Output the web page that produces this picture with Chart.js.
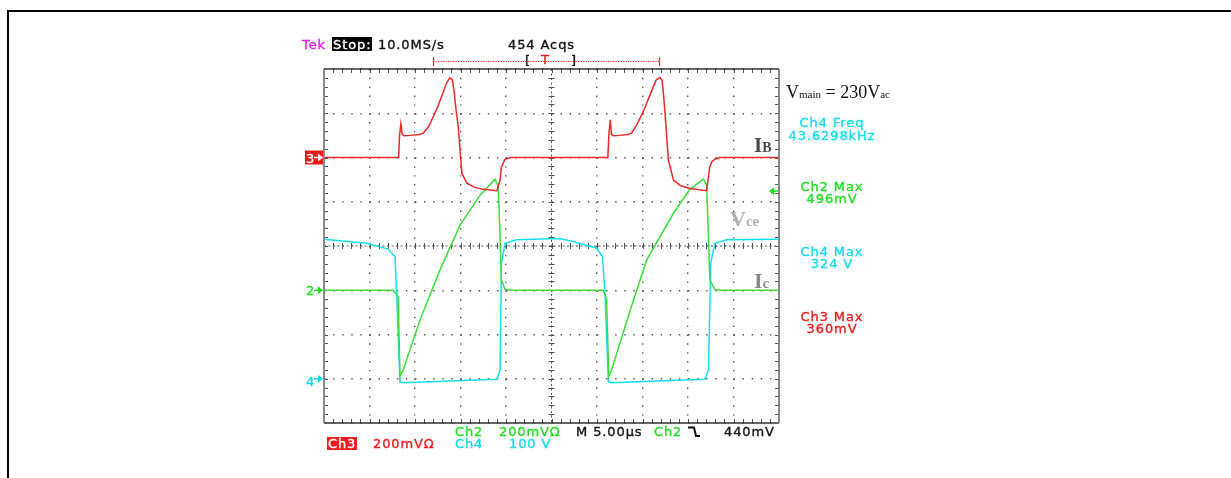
<!DOCTYPE html>
<html lang="en">
<head>
<meta charset="UTF-8">
<title>Scope capture - IB, Vce, Ic</title>
<script src="https://cdn.jsdelivr.net/npm/chart.js"></script>
<style>
    body { margin: 0; background: #fff; }
    #wrap { position: relative; width: 1231px; height: 478px; overflow: hidden; }
    #scope { position: absolute; left: 0; top: 0; }
    .frame { position: absolute; left: 7px; top: 10px; width: 1230px; height: 470px;
             border-top: 2px solid #000; border-left: 2px solid #000; }
    .t { position: absolute; font-family: "DejaVu Sans", sans-serif; font-size: 13px;
         line-height: 13px; letter-spacing: 0.9px; white-space: pre; -webkit-text-stroke: 0.35px currentColor; }
    .c { width: 100px; left: 782px; text-align: center; }
    .box { color: #fff; padding: 0 1px; }
    .serif { position: absolute; font-family: "Liberation Serif", serif; font-weight: bold; white-space: pre; }
    .sub { line-height: 10px; }
    .red { color: #ee1c1c; } .grn { color: #22dd22; } .cyn { color: #12dcec; } .blk { color: #111; }
</style>
</head>
<body>
<div id="wrap">
    <canvas id="scope" width="1231" height="478"></canvas>
    <div class="frame"></div>

    <!-- header -->
    <div class="t" style="left:302px;top:38px;color:#e81ee8">Tek</div>
    <div class="t box" style="left:332px;top:37px;background:#000;height:13px;padding-top:1px">Stop:</div>
    <div class="t blk" style="left:378px;top:38px">10.0MS/s</div>
    <div class="t blk" style="left:508px;top:38px">454 Acqs</div>
    <div class="t blk" style="left:525px;top:54px">[</div>
    <div class="t red" style="left:541px;top:53px">T</div>
    <div class="t blk" style="left:571px;top:54px">]</div>

    <!-- channel markers -->
    <div class="t" style="left:306px;top:152px;color:#fff">3</div>
    <div class="t grn" style="left:306px;top:284px">2</div>
    <div class="t cyn" style="left:306px;top:375px">4</div>

    <!-- trace labels -->
    <div class="serif" style="left:754px;top:135px;font-size:21px;line-height:21px;color:#4a4a4a">I<span class="sub" style="font-size:14px">B</span></div>
    <div class="serif" style="left:730px;top:208px;font-size:22px;line-height:22px;color:#b0b0b0">V<span class="sub" style="font-size:15px">ce</span></div>
    <div class="serif" style="left:754px;top:270px;font-size:22px;line-height:22px;color:#8a8a8a">I<span class="sub" style="font-size:15px">c</span></div>

    <!-- right readouts -->
    <div class="serif" style="left:786px;top:83px;font-size:18px;line-height:18px;font-weight:normal;color:#111">V<span class="sub" style="font-size:11px">main</span> = 230V<span class="sub" style="font-size:11px">ac</span></div>
    <div class="t c cyn" style="top:116px">Ch4 Freq</div>
    <div class="t c cyn" style="top:129px">43.6298kHz</div>
    <div class="t c grn" style="top:180px">Ch2 Max</div>
    <div class="t c grn" style="top:192px">496mV</div>
    <div class="t c cyn" style="top:245px">Ch4 Max</div>
    <div class="t c cyn" style="top:257px">324 V</div>
    <div class="t c red" style="top:310px">Ch3 Max</div>
    <div class="t c red" style="top:322px">360mV</div>

    <!-- bottom settings -->
    <div class="t grn" style="left:455px;top:425px">Ch2</div>
    <div class="t grn" style="left:499px;top:425px">200mVΩ</div>
    <div class="t blk" style="left:576px;top:425px">M 5.00µs</div>
    <div class="t grn" style="left:654px;top:425px">Ch2</div>
    <div class="t blk" style="left:724px;top:425px">440mV</div>
    <div class="t box" style="left:327px;top:437px;background:#ee1c1c;height:13px">Ch3</div>
    <div class="t red" style="left:373px;top:437px">200mVΩ</div>
    <div class="t cyn" style="left:455px;top:437px">Ch4</div>
    <div class="t cyn" style="left:509px;top:437px">100 V</div>
</div>

<script>
    // time in µs (5 µs/div, 10 div), level in divisions from screen centre
    const ibTime  = [0, 8.2, 8.3, 8.45, 8.6, 8.8, 9.5, 10.5, 10.9, 11.5, 12.0, 12.5, 13.0, 13.5, 13.85, 14.1, 14.3, 14.5, 14.75, 15.15, 15.7, 16.5, 17.5, 19.0, 19.35, 19.5, 19.9, 20.5,
                     31.2, 31.3, 31.45, 31.6, 31.8, 32.5, 33.4, 33.8, 34.4, 35.0, 35.5, 36.0, 36.5, 36.9, 37.15, 37.3, 37.45, 37.85, 38.4, 39.2, 40.2, 42.05, 42.4, 42.6, 42.95, 43.5, 50];
    const ibLevel = [2.0, 2.0, 2.5, 2.76, 2.52, 2.49, 2.5, 2.52, 2.55, 2.7, 2.92, 3.15, 3.42, 3.7, 3.8, 3.76, 3.5, 3.1, 2.7, 1.64, 1.42, 1.33, 1.28, 1.25, 1.49, 1.79, 1.96, 2.0,
                     2.0, 2.5, 2.85, 2.52, 2.49, 2.5, 2.52, 2.55, 2.75, 3.0, 3.25, 3.5, 3.75, 3.81, 3.75, 3.45, 3.07, 1.94, 1.49, 1.36, 1.3, 1.25, 1.79, 1.9, 1.96, 2.0, 2.0];

    const icTime  = [0, 7.6, 8.15, 8.35, 8.7, 10.55, 12.75, 14.95, 17.15, 18.8, 19.15, 19.3, 19.5, 19.9, 20.5,
                     30.7, 31.05, 31.3, 31.6, 33.65, 35.45, 38.4, 40.2, 41.7, 42.05, 42.2, 42.4, 42.95, 43.5, 50];
    const icLevel = [-1.0, -1.0, -1.15, -2.95, -2.8, -1.67, -0.54, 0.47, 1.15, 1.51, 1.34, 0.5, -0.77, -0.98, -1.0,
                     -1.0, -1.22, -2.95, -2.8, -1.45, -0.32, 0.74, 1.28, 1.51, 1.38, 0.5, -0.77, -0.98, -1.0, -1.0];

    const vceTime  = [0, 4.7, 7.05, 7.8, 8.0, 8.35, 8.7, 19.0, 19.35, 19.5, 19.9, 21.15, 25.9, 27.35, 29.95, 30.6, 30.9, 31.25, 31.6, 41.85, 42.25, 42.5, 42.95, 44.25, 50];
    const vceLevel = [0.15, 0.06, -0.07, -0.24, -1.15, -3.07, -3.09, -3.01, -2.8, -0.39, 0.06, 0.14, 0.17, 0.1, -0.05, -0.24, -1.15, -3.07, -3.09, -3.01, -2.8, -0.39, 0.06, 0.14, 0.15];

    // channel ground markers (div) and Ch2 trigger level (div)
    const markerLevels = [2, -1, -3];
    const markerColors = ['#ffffff', '#22dd22', '#12dcec'];
    const trigLevel = 1.24;

    const pts = (xs, ys) => xs.map((x, i) => ({ x: x, y: ys[i] }));

    function arrow(ctx, x0, y, dir, color) {
        // small arrow: shaft then filled head, dir = 1 right, -1 left
        ctx.strokeStyle = color; ctx.fillStyle = color; ctx.lineWidth = 1.5;
        ctx.beginPath(); ctx.moveTo(x0, y); ctx.lineTo(x0 + dir * 5, y); ctx.stroke();
        ctx.beginPath();
        ctx.moveTo(x0 + dir * 9, y); ctx.lineTo(x0 + dir * 4, y - 4); ctx.lineTo(x0 + dir * 4, y + 4);
        ctx.closePath(); ctx.fill();
    }

    const scopeFrame = {
        id: 'scopeFrame',
        beforeDatasetsDraw(chart) {
            const { ctx, chartArea: a, scales: { x, y } } = chart;
            const cx = x.getPixelForValue(25), cy = y.getPixelForValue(0);
            ctx.save();
            ctx.strokeStyle = '#555';
            ctx.lineWidth = 1;
            ctx.setLineDash([2, 2.5]);
            ctx.beginPath();
            ctx.moveTo(a.left, cy); ctx.lineTo(a.right, cy);
            ctx.moveTo(cx, a.top); ctx.lineTo(cx, a.bottom);
            ctx.stroke();
            ctx.setLineDash([]);
            ctx.beginPath();
            for (let t = 1; t < 50; t++) {
                const px = Math.round(x.getPixelForValue(t)) + 0.5;
                ctx.moveTo(px, a.top); ctx.lineTo(px, a.top + 4);
                ctx.moveTo(px, a.bottom); ctx.lineTo(px, a.bottom - 4);
                ctx.moveTo(px, cy - 3); ctx.lineTo(px, cy + 3);
            }
            for (let k = -19; k < 20; k++) {
                const py = Math.round(y.getPixelForValue(k / 5)) + 0.5;
                ctx.moveTo(a.left, py); ctx.lineTo(a.left + 4, py);
                ctx.moveTo(a.right, py); ctx.lineTo(a.right - 4, py);
                ctx.moveTo(cx - 3, py); ctx.lineTo(cx + 3, py);
            }
            ctx.stroke();
            ctx.restore();
        },
        afterDraw(chart) {
            const { ctx, chartArea: a, scales: { y } } = chart;
            ctx.save();
            ctx.strokeStyle = '#333';
            ctx.lineWidth = 1.5;
            ctx.beginPath();
            ctx.moveTo(a.left, a.top); ctx.lineTo(a.right, a.top);
            ctx.moveTo(a.left, a.bottom); ctx.lineTo(a.right, a.bottom);
            ctx.stroke();
            ctx.strokeStyle = '#888';
            ctx.lineWidth = 2;
            ctx.beginPath();
            ctx.moveTo(a.left, a.top); ctx.lineTo(a.left, a.bottom);
            ctx.moveTo(a.right, a.top); ctx.lineTo(a.right, a.bottom);
            ctx.stroke();
            // red tag behind the Ch3 ground marker
            ctx.fillStyle = '#ee1c1c';
            const y3 = y.getPixelForValue(markerLevels[0]);
            ctx.fillRect(305, y3 - 7, 18, 14);
            // channel ground markers
            markerLevels.forEach((lv, i) => arrow(ctx, 314, y.getPixelForValue(lv), 1, markerColors[i]));
            // trigger level marker on the right edge
            arrow(ctx, a.right - 1, y.getPixelForValue(trigLevel), -1, '#22dd22');
            // trigger position bar
            ctx.strokeStyle = '#ff2020';
            ctx.lineWidth = 1.2;
            ctx.setLineDash([1.2, 1.3]);
            ctx.beginPath();
            ctx.moveTo(433, 61.5); ctx.lineTo(660, 61.5);
            ctx.stroke();
            ctx.setLineDash([]);
            ctx.beginPath();
            ctx.moveTo(433.5, 57); ctx.lineTo(433.5, 66);
            ctx.moveTo(659.5, 57); ctx.lineTo(659.5, 66);
            ctx.stroke();
            // falling-edge trigger slope symbol
            ctx.strokeStyle = '#111';
            ctx.lineWidth = 2;
            ctx.beginPath();
            ctx.moveTo(688, 427.5); ctx.lineTo(694, 427.5); ctx.lineTo(696, 436); ctx.lineTo(700, 436);
            ctx.stroke();
            ctx.restore();
        }
    };

    new Chart(document.getElementById('scope'), {
        type: 'line',
        data: {
            datasets: [
                { label: 'Ch3 IB', data: pts(ibTime, ibLevel), borderColor: 'rgb(236,40,40)' },
                { label: 'Ch2 Ic', data: pts(icTime, icLevel), borderColor: 'rgb(60,222,60)' },
                { label: 'Ch4 Vce', data: pts(vceTime, vceLevel), borderColor: 'rgb(20,224,236)' }
            ]
        },
        options: {
            responsive: false,
            animation: false,
            devicePixelRatio: 1,
            layout: { padding: { left: 324, top: 69, right: 452, bottom: 55 } },
            plugins: { legend: { display: false }, tooltip: { enabled: false } },
            elements: { point: { radius: 0 }, line: { tension: 0, borderWidth: 1.5 } },
            scales: {
                x: {
                    type: 'linear', min: 0, max: 50,
                    ticks: { display: false, stepSize: 5 },
                    grid: { color: '#555', lineWidth: 1.4, drawTicks: false },
                    border: { display: false, dash: [1.4, 7.45] }
                },
                y: {
                    type: 'linear', min: -4, max: 4,
                    ticks: { display: false, stepSize: 1 },
                    grid: { color: '#555', lineWidth: 1.4, drawTicks: false },
                    border: { display: false, dash: [1.4, 7.7] }
                }
            }
        },
        plugins: [scopeFrame]
    });
</script>
</body>
</html>
